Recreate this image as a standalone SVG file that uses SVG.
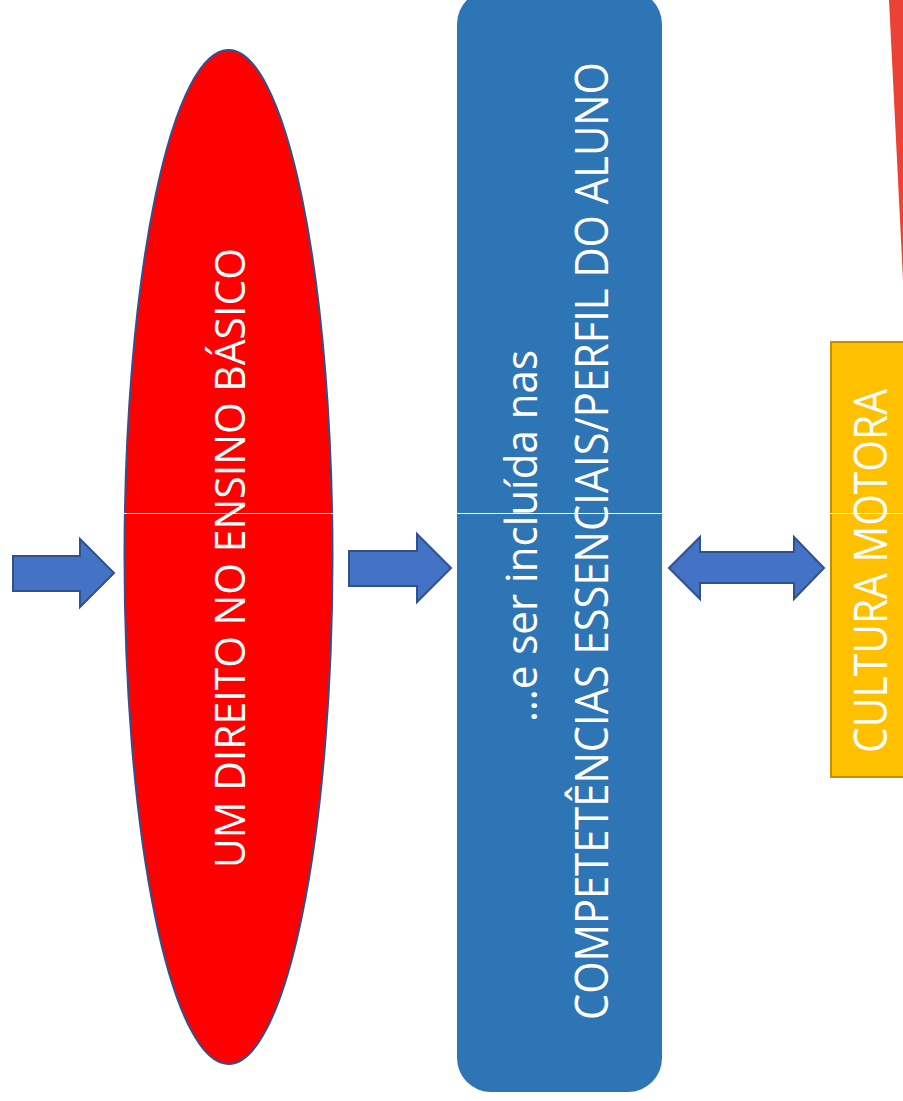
<svg xmlns="http://www.w3.org/2000/svg" width="903" height="1101" viewBox="0 0 903 1101">
<style>
.lbl{font-family:"Open Sans","Noto Sans","Liberation Sans",sans-serif;fill:#ffffff;text-anchor:middle}
.arrow{fill:#4472C4;stroke:#2F528F;stroke-width:2;stroke-linejoin:miter}
</style>
<rect width="903" height="1101" fill="#ffffff"/>
<polygon id="red-wedge" points="889,0 906,0 903,280" fill="#EA4335"/>
<g id="ellipse-node">
<ellipse cx="228.5" cy="557" rx="104" ry="507" fill="#FF0000" stroke="#2F528F" stroke-width="2"/>
<text class="lbl" transform="translate(245,558) rotate(-90)" font-size="42" textLength="620" lengthAdjust="spacingAndGlyphs">UM DIREITO NO ENSINO BÁSICO</text>
</g>
<g id="blue-node">
<rect x="457" y="-10" width="205" height="1102" rx="34" ry="34" fill="#2E75B6"/>
<text class="lbl" transform="translate(537,536) rotate(-90)" font-size="44" textLength="372" lengthAdjust="spacingAndGlyphs">…e ser incluída nas</text>
<text class="lbl" transform="translate(608,541) rotate(-90)" font-size="45" textLength="958" lengthAdjust="spacingAndGlyphs">COMPETETÊNCIAS ESSENCIAIS/PERFIL DO ALUNO</text>
</g>
<g id="yellow-node">
<rect x="831" y="342" width="90" height="435" fill="#FFC000" stroke="#BF9000" stroke-width="2"/>
<text class="lbl" transform="translate(887,571) rotate(-90)" font-size="46" textLength="364" lengthAdjust="spacingAndGlyphs">CULTURA MOTORA</text>
</g>
<line x1="0" y1="513.5" x2="903" y2="513.5" stroke="#ffffff" stroke-width="1"/>
<g id="connectors">
<polygon class="arrow" points="13,556 80,556 80,539 114,573 80,607 80,591 13,591"/>
<polygon class="arrow" points="349,551 417,551 417,534 451,568 417,602 417,586 349,586"/>
<polygon class="arrow" points="669,568 700,537 700,552 794,552 794,537 824,568 794,599 794,583 700,583 700,599"/>
</g>
</svg>
